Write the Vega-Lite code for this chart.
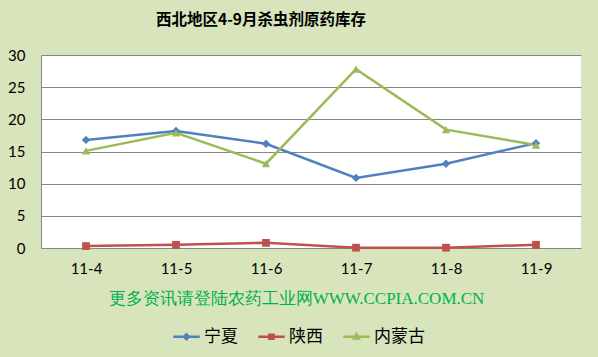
{
  "$schema": "https://vega.github.io/schema/vega-lite/v6.json",
  "width": 540,
  "height": 193,
  "autosize": {"type": "none"},
  "padding": {"left": 41, "top": 55, "right": 17, "bottom": 109},
  "background": "#D8E4BC",
  "title": {
    "text": "西北地区4-9月杀虫剂原药库存",
    "font": "Noto Sans CJK SC",
    "fontSize": 15.5,
    "fontWeight": "bold",
    "color": "#000000",
    "anchor": "middle",
    "dx": -50,
    "offset": 20
  },
  "config": {
    "view": {"fill": "#FFFFFF", "stroke": null},
    "axis": {"labelFont": "Lato", "labelFontSize": 15, "labelColor": "#000000"}
  },
  "data": {
    "values": [
      {"month": "11-4", "region": "宁夏", "value": 16.8},
      {"month": "11-5", "region": "宁夏", "value": 18.2},
      {"month": "11-6", "region": "宁夏", "value": 16.2},
      {"month": "11-7", "region": "宁夏", "value": 10.9},
      {"month": "11-8", "region": "宁夏", "value": 13.1},
      {"month": "11-9", "region": "宁夏", "value": 16.3},
      {"month": "11-4", "region": "陕西", "value": 0.3},
      {"month": "11-5", "region": "陕西", "value": 0.5},
      {"month": "11-6", "region": "陕西", "value": 0.8},
      {"month": "11-7", "region": "陕西", "value": 0.05},
      {"month": "11-8", "region": "陕西", "value": 0.05},
      {"month": "11-9", "region": "陕西", "value": 0.5},
      {"month": "11-4", "region": "内蒙古", "value": 15.1},
      {"month": "11-5", "region": "内蒙古", "value": 17.9},
      {"month": "11-6", "region": "内蒙古", "value": 13.1},
      {"month": "11-7", "region": "内蒙古", "value": 27.8},
      {"month": "11-8", "region": "内蒙古", "value": 18.4},
      {"month": "11-9", "region": "内蒙古", "value": 16.0}
    ]
  },
  "encoding": {
    "x": {
      "field": "month",
      "type": "ordinal",
      "scale": {"type": "point", "padding": 0.5},
      "axis": {
        "labelAngle": 0,
        "ticks": false,
        "labelPadding": 13,
        "domainColor": "#868686",
        "domainWidth": 1,
        "title": "更多资讯请登陆农药工业网WWW.CCPIA.COM.CN",
        "titleFont": "Liberation Serif",
        "titleFontSize": 17,
        "titleFontWeight": "normal",
        "titleColor": "#00B050",
        "titlePadding": 14,
        "titleX": 255
      }
    },
    "y": {
      "field": "value",
      "type": "quantitative",
      "scale": {"domain": [0, 30], "nice": false},
      "axis": {
        "title": null,
        "values": [0, 5, 10, 15, 20, 25, 30],
        "ticks": false,
        "labelPadding": 16,
        "gridColor": "#868686",
        "gridWidth": 1,
        "domainColor": "#868686"
      }
    },
    "color": {
      "field": "region",
      "type": "nominal",
      "scale": {"domain": ["宁夏", "陕西", "内蒙古"], "range": ["#4F81BD", "#C0504D", "#9BBB59"]},
      "legend": {
        "title": null,
        "orient": "none",
        "legendX": 131,
        "legendY": 267,
        "direction": "horizontal",
        "labelFont": "Noto Sans CJK SC",
        "labelFontSize": 17,
        "labelColor": "#000000",
        "symbolSize": 700,
        "symbolStrokeWidth": 2.5,
        "labelOffset": 3,
        "columnPadding": 15,
        "encode": {
          "symbols": {
            "update": {
              "shape": {"signal": "datum.value === '宁夏' ? 'M-1,0H1M-0.18,0L0,-0.18L0.18,0L0,0.18Z' : datum.value === '陕西' ? 'M-1,0H1M-0.16,-0.16H0.16V0.16H-0.16Z' : 'M-1,0H1M-0.18,0.14L0,-0.18L0.18,0.14Z'"},
              "fill": {"signal": "datum.value === '宁夏' ? '#4F81BD' : datum.value === '陕西' ? '#C0504D' : '#9BBB59'"},
              "stroke": {"signal": "datum.value === '宁夏' ? '#4F81BD' : datum.value === '陕西' ? '#C0504D' : '#9BBB59'"},
              "strokeWidth": {"value": 2.5},
              "opacity": {"value": 1}
            }
          }
        }
      }
    }
  },
  "layer": [
    {
      "mark": {"type": "line", "strokeWidth": 2.5},
      "encoding": {"detail": {"field": "region"}}
    },
    {
      "transform": [{"filter": "datum.region === '宁夏'"}],
      "mark": {"type": "point", "shape": "diamond", "filled": true, "opacity": 1, "size": 70}
    },
    {
      "transform": [{"filter": "datum.region === '陕西'"}],
      "mark": {"type": "point", "shape": "square", "filled": true, "opacity": 1, "size": 60}
    },
    {
      "transform": [{"filter": "datum.region === '内蒙古'"}],
      "mark": {"type": "point", "shape": "triangle-up", "filled": true, "opacity": 1, "size": 70}
    }
  ]
}
